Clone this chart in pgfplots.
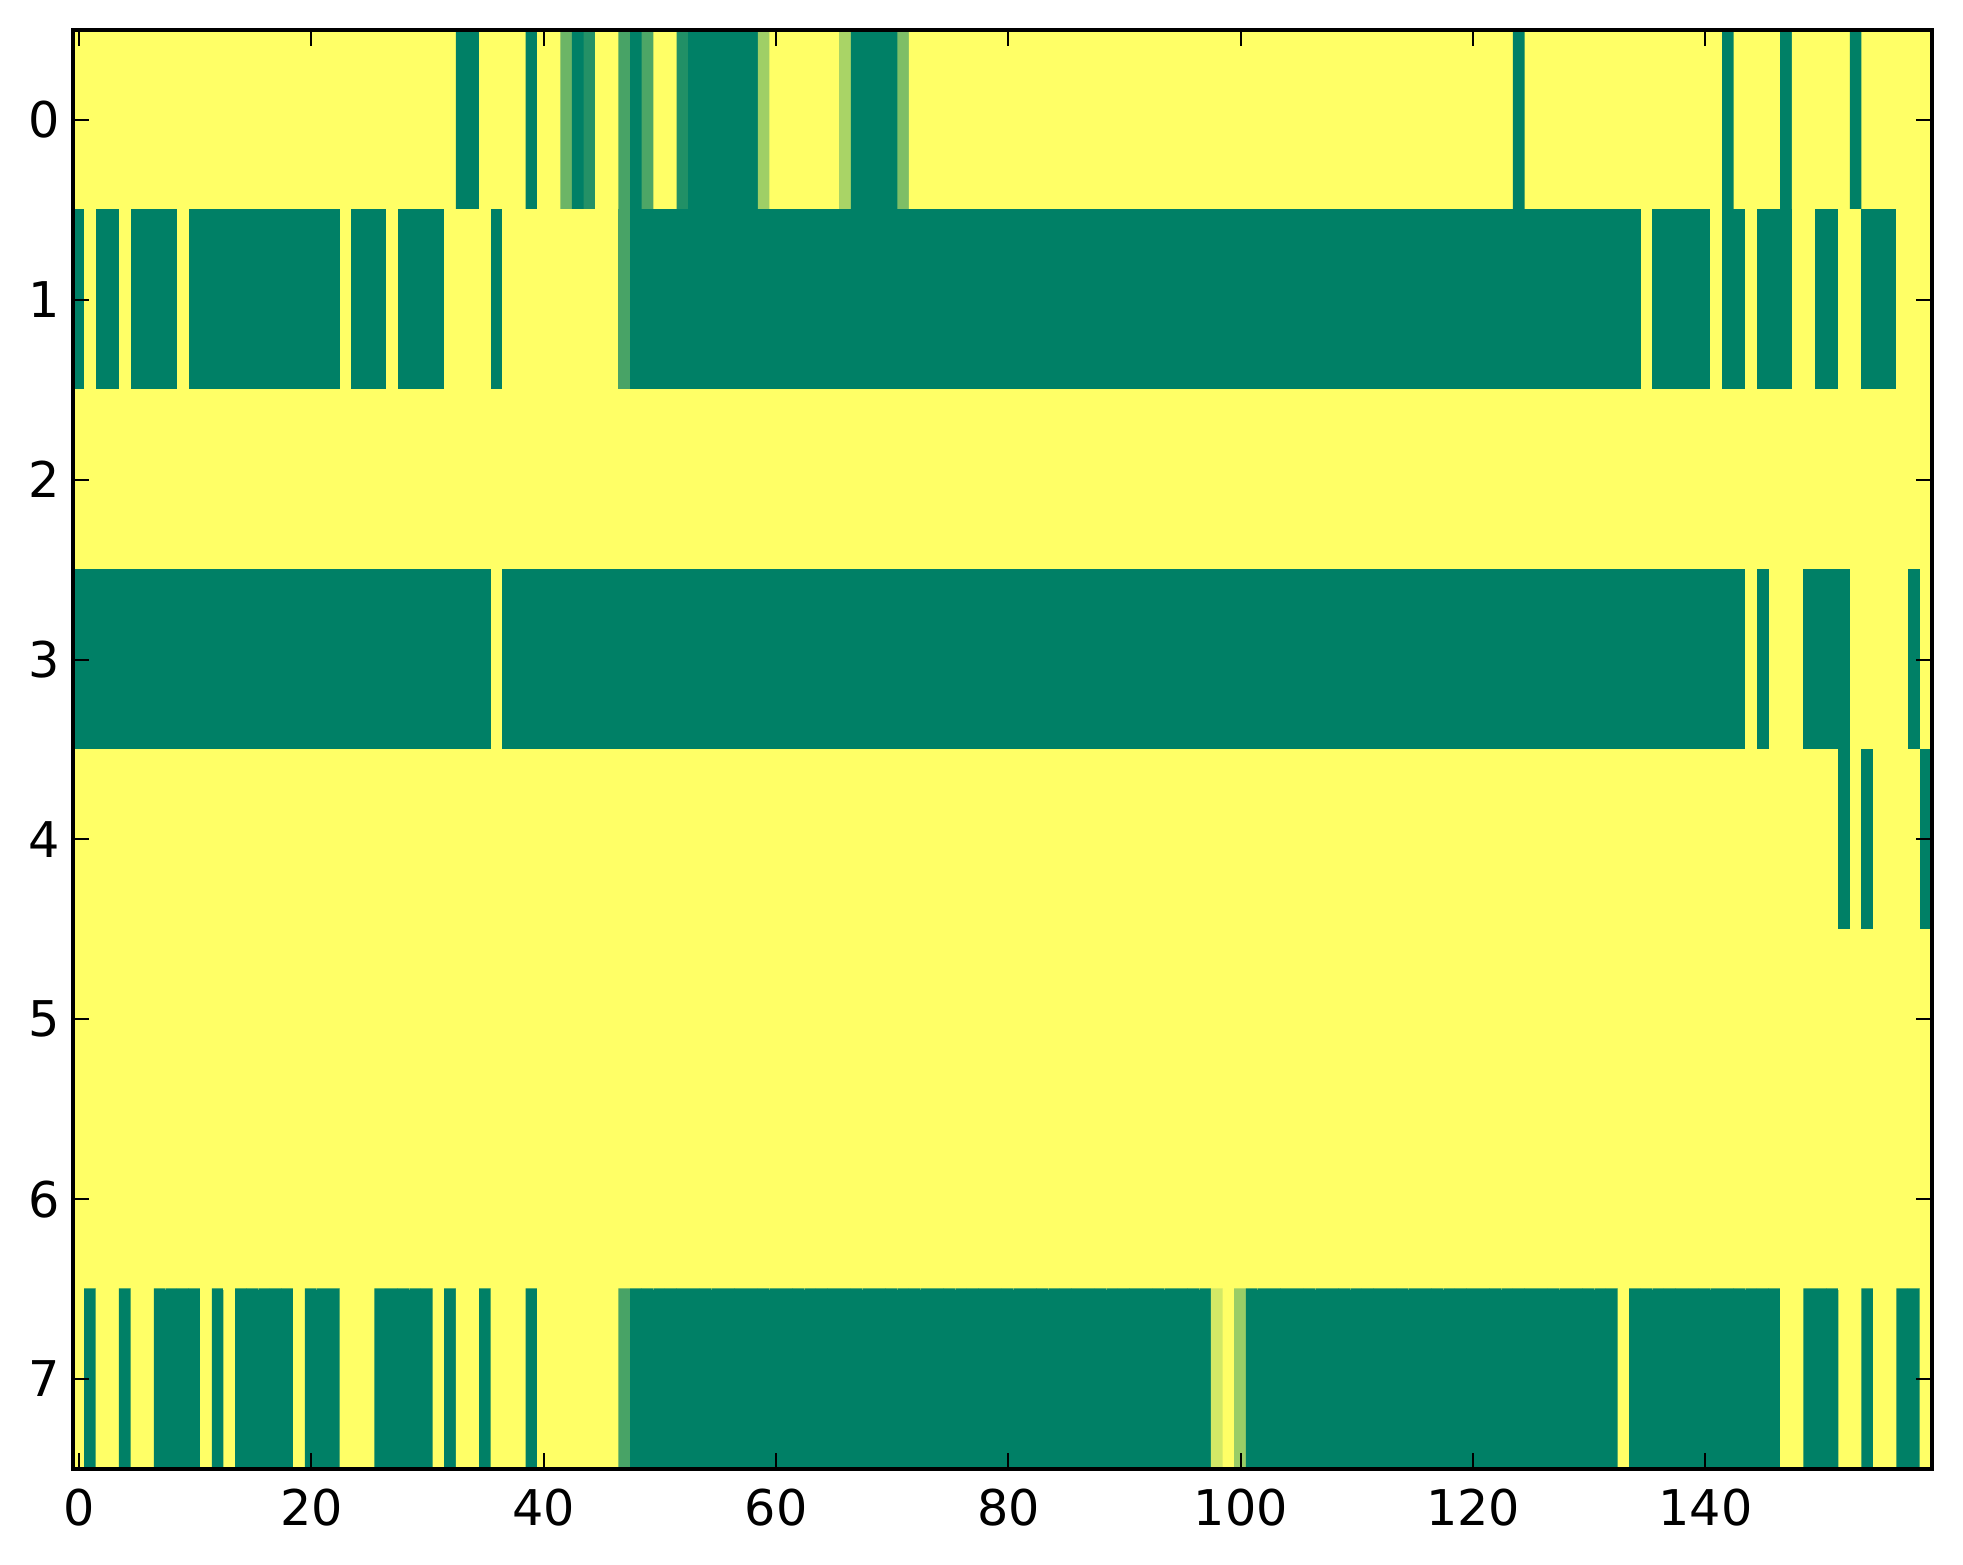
\documentclass[border=0pt]{standalone}
\usepackage{fontspec}
\setmainfont{DejaVu Sans}
\usepackage{pgfplots}
\usepackage{pgfplotstable}
\pgfplotsset{compat=1.18}
\usetikzlibrary{calc}

\pgfplotstableread[row sep=\\,header=false]{
1\\1\\1\\1\\1\\1\\1\\1\\1\\1\\
1\\1\\1\\1\\1\\1\\1\\1\\1\\1\\
1\\1\\1\\1\\1\\1\\1\\1\\1\\1\\
1\\1\\1\\0\\0\\1\\1\\1\\1\\0\\
1\\1\\0.42\\0\\0.14\\1\\1\\0.28\\0\\0.3\\
1\\1\\0.13\\0\\0\\0\\0\\0\\0\\0.62\\
1\\1\\1\\1\\1\\1\\0.66\\0\\0\\0\\
0\\0.49\\1\\1\\1\\1\\1\\1\\1\\1\\
1\\1\\1\\1\\1\\1\\1\\1\\1\\1\\
1\\1\\1\\1\\1\\1\\1\\1\\1\\1\\
1\\1\\1\\1\\1\\1\\1\\1\\1\\1\\
1\\1\\1\\1\\1\\1\\1\\1\\1\\1\\
1\\1\\1\\1\\0\\1\\1\\1\\1\\1\\
1\\1\\1\\1\\1\\1\\1\\1\\1\\1\\
1\\1\\0\\1\\1\\1\\1\\0\\1\\1\\
1\\1\\1\\0\\1\\1\\1\\1\\1\\1\\
0\\1\\0\\0\\1\\0\\0\\0\\0\\1\\
0\\0\\0\\0\\0\\0\\0\\0\\0\\0\\
0\\0\\0\\1\\0\\0\\0\\1\\0\\0\\
0\\0\\1\\1\\1\\1\\0\\1\\1\\1\\
1\\1\\1\\1\\1\\1\\1\\0.28\\0\\0\\
0\\0\\0\\0\\0\\0\\0\\0\\0\\0\\
0\\0\\0\\0\\0\\0\\0\\0\\0\\0\\
0\\0\\0\\0\\0\\0\\0\\0\\0\\0\\
0\\0\\0\\0\\0\\0\\0\\0\\0\\0\\
0\\0\\0\\0\\0\\0\\0\\0\\0\\0\\
0\\0\\0\\0\\0\\0\\0\\0\\0\\0\\
0\\0\\0\\0\\0\\0\\0\\0\\0\\0\\
0\\0\\0\\0\\0\\0\\0\\0\\0\\0\\
0\\0\\0\\0\\0\\1\\0\\0\\0\\0\\
0\\1\\0\\0\\1\\0\\0\\0\\1\\1\\
0\\0\\1\\1\\0\\0\\0\\1\\1\\1\\
1\\1\\1\\1\\1\\1\\1\\1\\1\\1\\
1\\1\\1\\1\\1\\1\\1\\1\\1\\1\\
1\\1\\1\\1\\1\\1\\1\\1\\1\\1\\
1\\1\\1\\1\\1\\1\\1\\1\\1\\1\\
1\\1\\1\\1\\1\\1\\1\\1\\1\\1\\
1\\1\\1\\1\\1\\1\\1\\1\\1\\1\\
1\\1\\1\\1\\1\\1\\1\\1\\1\\1\\
1\\1\\1\\1\\1\\1\\1\\1\\1\\1\\
1\\1\\1\\1\\1\\1\\1\\1\\1\\1\\
1\\1\\1\\1\\1\\1\\1\\1\\1\\1\\
1\\1\\1\\1\\1\\1\\1\\1\\1\\1\\
1\\1\\1\\1\\1\\1\\1\\1\\1\\1\\
1\\1\\1\\1\\1\\1\\1\\1\\1\\1\\
1\\1\\1\\1\\1\\1\\1\\1\\1\\1\\
1\\1\\1\\1\\1\\1\\1\\1\\1\\1\\
1\\1\\1\\1\\1\\1\\1\\1\\1\\1\\
0\\0\\0\\0\\0\\0\\0\\0\\0\\0\\
0\\0\\0\\0\\0\\0\\0\\0\\0\\0\\
0\\0\\0\\0\\0\\0\\0\\0\\0\\0\\
0\\0\\0\\0\\0\\0\\1\\0\\0\\0\\
0\\0\\0\\0\\0\\0\\0\\0\\0\\0\\
0\\0\\0\\0\\0\\0\\0\\0\\0\\0\\
0\\0\\0\\0\\0\\0\\0\\0\\0\\0\\
0\\0\\0\\0\\0\\0\\0\\0\\0\\0\\
0\\0\\0\\0\\0\\0\\0\\0\\0\\0\\
0\\0\\0\\0\\0\\0\\0\\0\\0\\0\\
0\\0\\0\\0\\0\\0\\0\\0\\0\\0\\
0\\0\\0\\0\\0\\0\\0\\0\\0\\0\\
0\\0\\0\\0\\0\\0\\0\\0\\0\\0\\
0\\0\\0\\0\\0\\0\\0\\0\\0\\0\\
0\\0\\0\\0\\1\\0\\1\\1\\1\\0\\
0\\0\\0\\1\\1\\1\\1\\1\\0\\1\\
1\\1\\1\\1\\1\\1\\1\\1\\1\\1\\
1\\1\\1\\1\\1\\1\\1\\1\\1\\1\\
1\\1\\1\\1\\1\\1\\1\\1\\1\\1\\
1\\1\\1\\1\\1\\1\\1\\1\\1\\1\\
1\\1\\1\\1\\1\\1\\1\\1\\1\\1\\
1\\1\\1\\1\\1\\1\\1\\1\\1\\1\\
1\\1\\1\\1\\1\\1\\1\\1\\1\\1\\
1\\1\\1\\1\\1\\1\\1\\1\\1\\1\\
1\\1\\1\\1\\1\\1\\1\\1\\1\\1\\
1\\1\\1\\1\\1\\1\\1\\1\\1\\1\\
1\\1\\1\\1\\1\\1\\1\\1\\1\\1\\
1\\1\\1\\1\\1\\1\\1\\1\\1\\1\\
1\\1\\1\\1\\1\\1\\1\\1\\1\\1\\
1\\1\\1\\1\\1\\1\\1\\1\\1\\1\\
1\\1\\1\\1\\1\\1\\1\\1\\1\\1\\
1\\1\\0\\1\\0\\1\\1\\1\\1\\0\\
1\\1\\1\\1\\1\\1\\1\\1\\1\\1\\
1\\1\\1\\1\\1\\1\\1\\1\\1\\1\\
1\\1\\1\\1\\1\\1\\1\\1\\1\\1\\
1\\1\\1\\1\\1\\1\\1\\1\\1\\1\\
1\\1\\1\\1\\1\\1\\1\\1\\1\\1\\
1\\1\\1\\1\\1\\1\\1\\1\\1\\1\\
1\\1\\1\\1\\1\\1\\1\\1\\1\\1\\
1\\1\\1\\1\\1\\1\\1\\1\\1\\1\\
1\\1\\1\\1\\1\\1\\1\\1\\1\\1\\
1\\1\\1\\1\\1\\1\\1\\1\\1\\1\\
1\\1\\1\\1\\1\\1\\1\\1\\1\\1\\
1\\1\\1\\1\\1\\1\\1\\1\\1\\1\\
1\\1\\1\\1\\1\\1\\1\\1\\1\\1\\
1\\1\\1\\1\\1\\1\\1\\1\\1\\1\\
1\\1\\1\\1\\1\\1\\1\\1\\1\\1\\
1\\1\\1\\1\\1\\1\\1\\1\\1\\1\\
1\\1\\1\\1\\1\\1\\1\\1\\1\\1\\
1\\1\\1\\1\\1\\1\\1\\1\\1\\1\\
1\\1\\1\\1\\1\\1\\1\\1\\1\\1\\
1\\1\\1\\1\\1\\1\\1\\1\\1\\1\\
1\\1\\1\\1\\1\\1\\1\\1\\1\\1\\
1\\1\\1\\1\\1\\1\\1\\1\\1\\1\\
1\\1\\1\\1\\1\\1\\1\\1\\1\\1\\
1\\1\\1\\1\\1\\1\\1\\1\\1\\1\\
1\\1\\1\\1\\1\\1\\1\\1\\1\\1\\
1\\1\\1\\1\\1\\1\\1\\1\\1\\1\\
1\\1\\1\\1\\1\\1\\1\\1\\1\\1\\
1\\1\\1\\1\\1\\1\\1\\1\\1\\1\\
1\\1\\1\\1\\1\\1\\1\\1\\1\\1\\
1\\1\\1\\1\\1\\1\\1\\1\\1\\1\\
1\\1\\1\\1\\1\\1\\1\\1\\1\\1\\
1\\1\\1\\1\\1\\1\\1\\1\\1\\1\\
1\\0\\1\\1\\0\\1\\1\\0\\0\\0\\
0\\1\\0\\1\\0\\0\\0\\0\\0\\1\\
0\\0\\0\\1\\1\\1\\0\\0\\0\\0\\
0\\1\\0\\1\\1\\0\\1\\1\\1\\0\\
1\\1\\1\\1\\1\\1\\1\\0.28\\0\\0\\
0\\0\\0\\0\\0\\0\\0\\0\\0\\0\\
0\\0\\0\\0\\0\\0\\0\\0\\0\\0\\
0\\0\\0\\0\\0\\0\\0\\0\\0\\0\\
0\\0\\0\\0\\0\\0\\0\\0\\0\\0\\
0\\0\\0\\0\\0\\0\\0\\0\\0.82\\1\\
0.6\\0\\0\\0\\0\\0\\0\\0\\0\\0\\
0\\0\\0\\0\\0\\0\\0\\0\\0\\0\\
0\\0\\0\\0\\0\\0\\0\\0\\0\\0\\
0\\0\\0\\1\\0\\0\\0\\0\\0\\0\\
0\\0\\0\\0\\0\\0\\0\\1\\1\\0\\
0\\0\\1\\1\\0\\1\\1\\0\\0\\1\\
}\imgdata

\begin{document}
\begin{tikzpicture}
\begin{axis}[
  scale only axis,
  width=464.4pt, height=359.5pt,
  xmin=-0.5, xmax=159.5, ymin=-0.5, ymax=7.5,
  y dir=reverse,
  xtick={0,20,...,140}, ytick={0,...,7},
  tick align=inside,
  major tick length=4pt,
  tick style={black, line width=0.5pt},
  axis line style={line width=0.9pt},
  axis on top,
  colormap={summer}{rgb=(0,0.5,0.4) rgb=(1,1,0.4)},
  point meta min=0, point meta max=1,
  /pgf/number format/assume math mode=true,
  ticklabel style={font=\fontsize{12.3}{15}\selectfont},
  xticklabel style={yshift=-1.5pt},
  yticklabel style={xshift=0.3pt},
]
\addplot[matrix plot*, mesh/cols=160, point meta=explicit]
  table[x index=0, y index=0, x expr={mod(\coordindex,160)}, y expr={floor(\coordindex/160)}, meta index=0] {\imgdata};
\end{axis}
\pgfresetboundingbox
\path[use as bounding box] ($(current axis.south west)+(-18.3pt,-24pt)$) rectangle ($(current axis.north east)+(7.75pt,7.5pt)$);
\end{tikzpicture}
\end{document}
